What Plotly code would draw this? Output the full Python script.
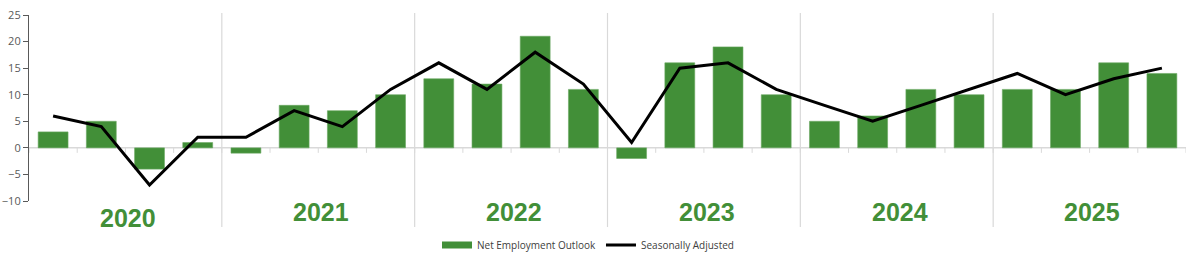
import plotly.graph_objects as go

years = ["2020", "2021", "2022", "2023", "2024", "2025"]
quarters = ["Q1", "Q2", "Q3", "Q4"]
categories = [f"{y} {q}" for y in years for q in quarters]

net_employment_outlook = [3, 5, -4, 1,
                          -1, 8, 7, 10,
                          13, 12, 21, 11,
                          -2, 16, 19, 10,
                          5, 6, 11, 10,
                          11, 11, 16, 14]
seasonally_adjusted = [6, 4, -7, 2,
                       2, 7, 4, 11,
                       16, 11, 18, 12,
                       1, 15, 16, 11,
                       8, 5, 8, 11,
                       14, 10, 13, 15]
y_ticks = [-10, -5, 0, 5, 10, 15, 20, 25]

GREEN = "#428f38"
idx = list(range(len(categories)))

fig = go.Figure()
fig.add_trace(go.Bar(x=idx, y=net_employment_outlook, marker_color=GREEN,
                     marker_line=dict(color="#6aa862", width=0.6),
                     width=0.62, name="Net Employment Outlook", showlegend=False,
                     hovertext=categories))
fig.add_trace(go.Scatter(x=[None], y=[None], mode="lines",
                         line=dict(color=GREEN, width=7),
                         name="Net Employment Outlook"))
fig.add_trace(go.Scatter(x=idx, y=seasonally_adjusted, mode="lines",
                         line=dict(color="black", width=3),
                         name="Seasonally Adjusted", hovertext=categories))

shapes = []
# zero line
shapes.append(dict(type="line", xref="x", yref="y", x0=-0.5, x1=len(idx) - 0.5,
                   y0=0, y1=0, line=dict(color="#d9d9d9", width=1.5), layer="below"))
# small ticks at category boundaries
for k in range(len(idx) + 1):
    shapes.append(dict(type="line", xref="x", yref="y", ysizemode="pixel", yanchor=0,
                       x0=k - 0.5, x1=k - 0.5, y0=0, y1=-5,
                       line=dict(color="#d9d9d9", width=1), layer="below"))
# year separators
for g in range(1, len(years)):
    xb = g * len(quarters) - 0.5
    shapes.append(dict(type="line", xref="x", yref="paper", x0=xb, x1=xb,
                       y0=-0.14, y1=1.011, line=dict(color="#d9d9d9", width=1.2),
                       layer="below"))

annotations = []
for g, yr in enumerate(years):
    annotations.append(dict(x=g * len(quarters) + 1.5 + 0.06, xref="x",
                            y=-0.091 if g == 0 else -0.059, yref="paper",
                            text=f"<b>{yr}</b>", showarrow=False,
                            font=dict(family="Liberation Sans, Arial", size=25, color=GREEN),
                            xanchor="center", yanchor="middle"))

fig.update_layout(
    width=1200, height=262,
    margin=dict(l=29, r=14, t=15, b=61, autoexpand=False),
    plot_bgcolor="white", paper_bgcolor="white",
    bargap=0.38,
    shapes=shapes, annotations=annotations,
    showlegend=True,
    legend=dict(orientation="h", xref="container", x=588 / 1200, xanchor="center",
                yref="container", y=1 - 245 / 262, yanchor="middle",
                font=dict(family="Open Sans", size=10, color="#404040"),
                itemwidth=30, traceorder="normal"),
    xaxis=dict(range=[-0.5, len(idx) - 0.5], showticklabels=False, showgrid=False,
               zeroline=False, showline=False, ticks="", automargin=False),
    yaxis=dict(range=[-10, 25], tickvals=y_ticks, showgrid=False, zeroline=False,
               showline=True, linecolor="#595959", linewidth=1.2,
               ticks="outside", ticklen=5, tickcolor="#595959", automargin=False,
               tickfont=dict(family="Open Sans", size=11, color="#595959")),
)

fig.write_html("out.html")
